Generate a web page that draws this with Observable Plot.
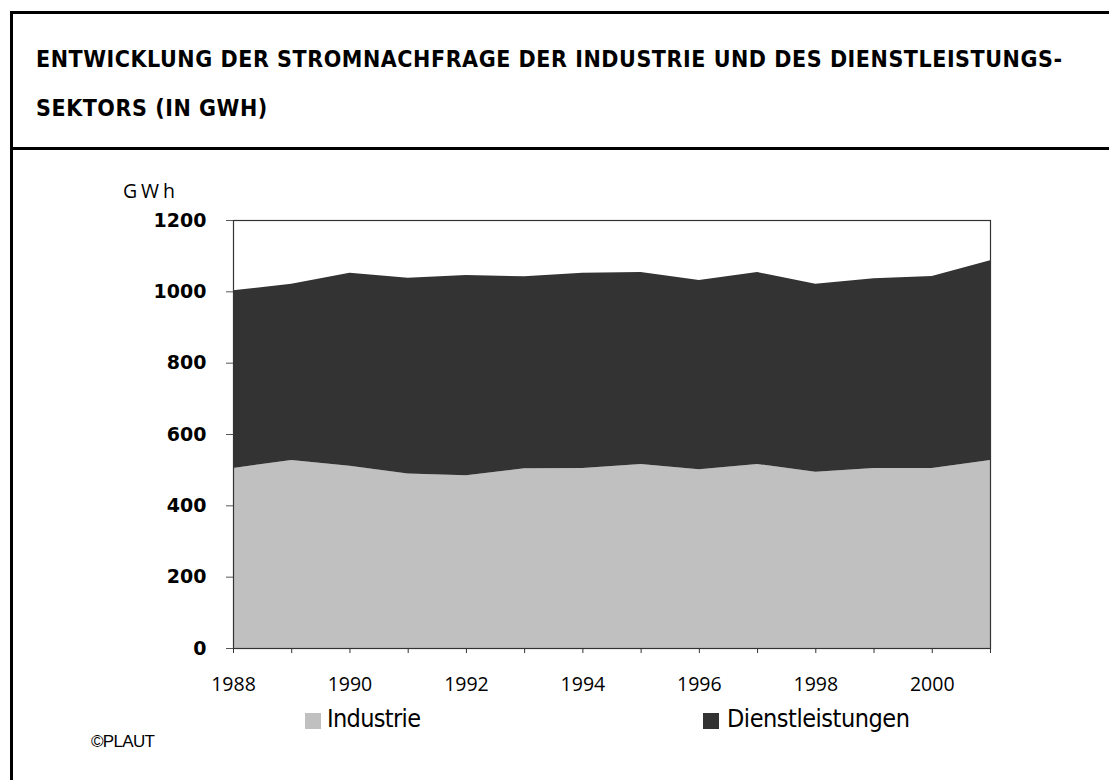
<!DOCTYPE html>
<html><head><meta charset="utf-8">
<script src="https://cdn.jsdelivr.net/npm/d3@7"></script>
<script src="https://cdn.jsdelivr.net/npm/@observablehq/plot@0.6"></script>
<style>
body{margin:0;background:#fff;}
#wrap{position:relative;width:1109px;height:780px;overflow:hidden;background:#fff;}
.abs{position:absolute;white-space:nowrap;line-height:1;}
.bar{position:absolute;background:#000;}
#chart{position:absolute;left:0;top:0;}
.title{font-family:"DejaVu Sans Condensed","DejaVu Sans",sans-serif;font-weight:bold;font-size:23px;color:#000;left:36px;}
.leg{font-family:"Liberation Sans Narrow","DejaVu Sans Condensed",sans-serif;font-size:25px;color:#000;top:706px;}
.sw{position:absolute;width:16px;height:16px;top:713px;}
</style></head><body>
<div id="wrap">
  <div class="bar" style="left:10px;top:11px;width:1099px;height:3px"></div>
  <div class="bar" style="left:10px;top:11px;width:3px;height:769px"></div>
  <div class="bar" style="left:10px;top:147px;width:1099px;height:3px"></div>
  <div id="t1" class="abs title" style="top:48px">ENTWICKLUNG DER STROMNACHFRAGE DER INDUSTRIE UND DES DIENSTLEISTUNGS-</div>
  <div id="t2" class="abs title" style="top:97px">SEKTORS (IN GWH)</div>
  <div id="chart"></div>
  <div id="unit" class="abs" style="left:123px;top:181px;font-family:'Open Sans',sans-serif;font-size:19.5px;color:#000">GWh</div>
  <div class="sw" id="sw1" style="left:305px"></div>
  <div id="l1" class="abs leg" style="left:327px">Industrie</div>
  <div class="sw" id="sw2" style="left:703px"></div>
  <div id="l2" class="abs leg" style="left:727px">Dienstleistungen</div>
  <div id="copy" class="abs" style="left:91px;top:733px;font-family:'Liberation Sans',Arial,sans-serif;font-size:17px;color:#000">©PLAUT</div>
</div>
<script>
const years = [1988,1989,1990,1991,1992,1993,1994,1995,1996,1997,1998,1999,2000,2001];
const industrie = [505,527,511,489,484,504,505,516,501,516,494,505,505,527];
const dienstleistungen = [498,494,541,549,562,538,547,538,531,538,527,532,538,560];
const sectors = ["Industrie","Dienstleistungen"];
const sectorColors = ["#c0c0c0","#333333"];
const yTicks = [0,200,400,600,800,1000,1200];

const data = [];
years.forEach((yr,i)=>{
  data.push({year:yr, sector:sectors[0], value:industrie[i]});
  data.push({year:yr, sector:sectors[1], value:dienstleistungen[i]});
});

const chart = Plot.plot({
  width:1109, height:700,
  marginLeft:233, marginRight:119, marginTop:220, marginBottom:52,
  style:{background:"transparent", overflow:"visible"},
  x:{domain:[1988,2001]},
  y:{domain:[0,1200]},
  color:{domain:sectors, range:sectorColors},
  marks:[
    Plot.areaY(data,{x:"year", y:"value", fill:"sector", z:"sector"}),
    Plot.frame({stroke:"#333", strokeWidth:1.2}),
    Plot.axisY({ticks:yTicks, tickSize:7, tickPadding:20, label:null,
      fontSize:19, fontFamily:"DejaVu Sans", fontWeight:"bold", stroke:"#555", fill:"#000",
      tickFormat:d=>String(d)}),
    Plot.axisX({ticks:years, tickSize:5, tickPadding:24, label:null,
      fontSize:19.5, fontFamily:"Open Sans", stroke:"#333", fill:"#000",
      tickFormat:d=>d%2===0?String(d):""})
  ]
});
document.getElementById("chart").appendChild(chart);
document.getElementById("sw1").style.background = sectorColors[0];
document.getElementById("sw2").style.background = sectorColors[1];

function fit(id,target){
  const el=document.getElementById(id);
  el.style.letterSpacing="0px";
  const w=el.getBoundingClientRect().width;
  const n=el.textContent.length;
  const ls=(target-w)/(n-1);
  el.style.letterSpacing=ls+"px";
  return ls;
}
const ls = fit("t1",1026);
document.getElementById("t2").style.letterSpacing = ls+"px";
fit("unit",52);
fit("l1",94);
fit("l2",183);
fit("copy",64);
</script>
</body></html>
